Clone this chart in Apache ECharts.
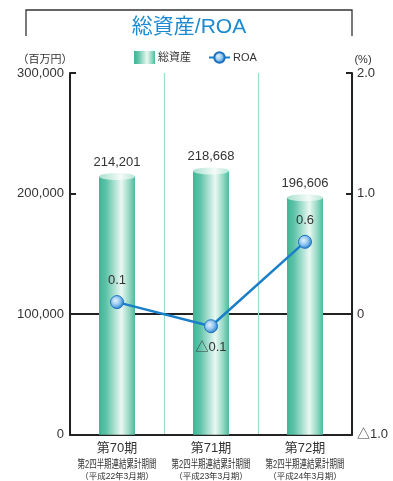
<!DOCTYPE html>
<html>
<head>
<meta charset="utf-8">
<script src="https://cdn.jsdelivr.net/npm/echarts@6/dist/echarts.min.js"></script>
<style>
  html, body { margin: 0; padding: 0; background: #fff; }
  #chart { width: 393px; height: 481px; }
</style>
</head>
<body>
<div id="chart"></div>
<script>
// Periods on the category axis
const periods = ['第70期', '第71期', '第72期'];
const periodSub = ['第2四半期連結累計期間', '第2四半期連結累計期間', '第2四半期連結累計期間'];
const fiscalYears = ['（平成22年3月期）', '（平成23年3月期）', '（平成24年3月期）'];

// Total assets (millions of yen) and ROA (%)
const totalAssets = [214201, 218668, 196606];
const roa = [0.1, -0.1, 0.6];

// Axis ranges
const assetTicks = [0, 100000, 200000, 300000];
const roaTicks = [-1, 0, 1, 2];

const FONT = "'Liberation Sans', 'Noto Sans CJK JP', sans-serif";
const TEXT = '#333';
const CLEAR = 'rgba(0,0,0,0)';

function roaText(v) {
  if (v < 0) return '△' + Math.abs(v).toFixed(1);
  if (v === 0) return '0';
  return v.toFixed(1);
}
function roaAxisText(v) {
  if (Math.abs(v) < 1e-9) return '0';
  return v < 0 ? '△' + Math.abs(v).toFixed(1) : v.toFixed(1);
}

const barFill = new echarts.graphic.LinearGradient(0, 0, 1, 0, [
  { offset: 0, color: '#3fb596' },
  { offset: 0.2, color: '#5ec3a8' },
  { offset: 0.62, color: '#eaf8f3' },
  { offset: 0.85, color: '#8fd6c0' },
  { offset: 1, color: '#4cba9d' }
]);
const capFill = new echarts.graphic.LinearGradient(0, 0, 1, 0, [
  { offset: 0, color: '#a9e0cf' },
  { offset: 0.6, color: '#f4fbf8' },
  { offset: 1, color: '#b8e6d8' }
]);
const dotFill = new echarts.graphic.RadialGradient(0.4, 0.4, 0.6, [
  { offset: 0, color: '#e6f3fd' },
  { offset: 0.55, color: '#8cc3ee' },
  { offset: 1, color: '#2a7fcb' }
]);

const chart = echarts.init(document.getElementById('chart'), null, { renderer: 'canvas' });

chart.setOption({
  animation: false,
  textStyle: { fontFamily: FONT },
  grid: { left: 70, right: 41, top: 73, bottom: 45 },
  legend: {
    left: 129, top: 46,
    itemWidth: 21, itemHeight: 13, itemGap: 17,
    textStyle: { fontSize: 11, color: TEXT, fontFamily: FONT, padding: [0, 0, 0, -2] },
    data: [
      { name: '総資産', icon: 'rect', itemStyle: { color: barFill } },
      { name: 'ROA' }
    ]
  },
  graphic: [
    { type: 'polyline', shape: { points: [[26, 36], [26, 10], [352, 10], [352, 36]] },
      style: { stroke: '#333', lineWidth: 1.3, fill: null } },
    { type: 'text', style: { text: '総資産/ROA', fontSize: 21, fill: '#1b8ad0',
      fontFamily: FONT, x: 189, y: 27, align: 'center', verticalAlign: 'middle' } },
    { type: 'text', style: { text: '（百万円）', x: 45, y: 60, fontSize: 11, fill: TEXT, fontFamily: FONT,
      align: 'center', verticalAlign: 'middle' } },
    { type: 'text', style: { text: '(%)', x: 363, y: 60, fontSize: 11, fill: TEXT, fontFamily: FONT,
      align: 'center', verticalAlign: 'middle' } }
  ],
  xAxis: {
    type: 'category',
    data: periods,
    boundaryGap: true,
    axisLine: { lineStyle: { color: '#222', width: 2 } },
    axisTick: { show: false },
    splitLine: { show: true, interval: 0, lineStyle: { color: '#9fdccd', width: 1.2 } },
    axisLabel: {
      margin: 6, interval: 0, hideOverlap: false,
      // middle line is drawn separately as a condensed caption
      formatter: (v, i) => `{a|${v}}\n{b| }\n{c|${fiscalYears[i]}}`,
      rich: {
        a: { fontSize: 13, color: TEXT, lineHeight: 16, fontFamily: FONT },
        b: { fontSize: 8, color: TEXT, lineHeight: 14, fontFamily: FONT },
        c: { fontSize: 8.5, color: TEXT, lineHeight: 12, fontFamily: FONT }
      }
    }
  },
  yAxis: [
    {
      type: 'value', min: assetTicks[0], max: assetTicks[assetTicks.length - 1], interval: 100000,
      axisLine: { show: true, lineStyle: { color: '#222', width: 2 } },
      axisTick: { show: true, inside: true, length: 6, lineStyle: { color: '#222', width: 2 } },
      // only the line level with 0 % is drawn; it stays beneath the bars
      splitLine: { show: true, showMinLine: true, showMaxLine: true,
        lineStyle: { color: [CLEAR, '#222', CLEAR, CLEAR], width: 2 } },
      axisLabel: { fontSize: 13, color: TEXT, margin: 6, fontFamily: FONT,
        formatter: v => v.toLocaleString('en-US') }
    },
    {
      type: 'value', min: roaTicks[0], max: roaTicks[roaTicks.length - 1], interval: 1,
      axisLine: { show: true, lineStyle: { color: '#222', width: 2 } },
      axisTick: { show: true, inside: true, length: 6, lineStyle: { color: '#222', width: 2 } },
      splitLine: { show: false },
      axisLabel: { fontSize: 13, color: TEXT, margin: 5, fontFamily: FONT, formatter: roaAxisText }
    }
  ],
  series: [
    {
      name: '総資産', type: 'bar', yAxisIndex: 0, data: totalAssets, barWidth: 36, z: 3,
      itemStyle: { color: barFill },
      label: { show: true, position: 'top', distance: 8, fontSize: 13, color: TEXT, fontFamily: FONT,
        formatter: p => p.value.toLocaleString('en-US') }
    },
    {
      // cylinder cap
      type: 'pictorialBar', yAxisIndex: 0, data: totalAssets, symbol: 'circle',
      symbolSize: [36, 7], symbolPosition: 'end', symbolOffset: [0, '-50%'], z: 4, silent: true,
      itemStyle: { color: capFill }
    },
    {
      name: 'ROA', type: 'line', yAxisIndex: 1, z: 5,
      lineStyle: { color: '#1a7fc8', width: 2.5 },
      symbol: 'circle', symbolSize: 13,
      itemStyle: { color: dotFill, borderColor: '#1a72c0', borderWidth: 1 },
      label: { show: true, fontSize: 13, color: TEXT, fontFamily: FONT, distance: 8,
        formatter: p => roaText(p.value) },
      data: roa.map(v => ({ value: v, label: { position: v < 0 ? 'bottom' : 'top' } }))
    }
  ]
});

// Condensed period captions under each category
const captions = periodSub.map((t, i) => {
  const x = chart.convertToPixel({ xAxisIndex: 0 }, i);
  return {
    type: 'text', x: x, y: 465, scaleX: 0.68,
    style: { text: t, fontSize: 11, fill: TEXT, fontFamily: FONT, align: 'center', verticalAlign: 'middle' }
  };
});
const opt = chart.getOption();
chart.setOption({ graphic: opt.graphic[0].elements.map(() => ({})).concat(captions) });
</script>
</body>
</html>
